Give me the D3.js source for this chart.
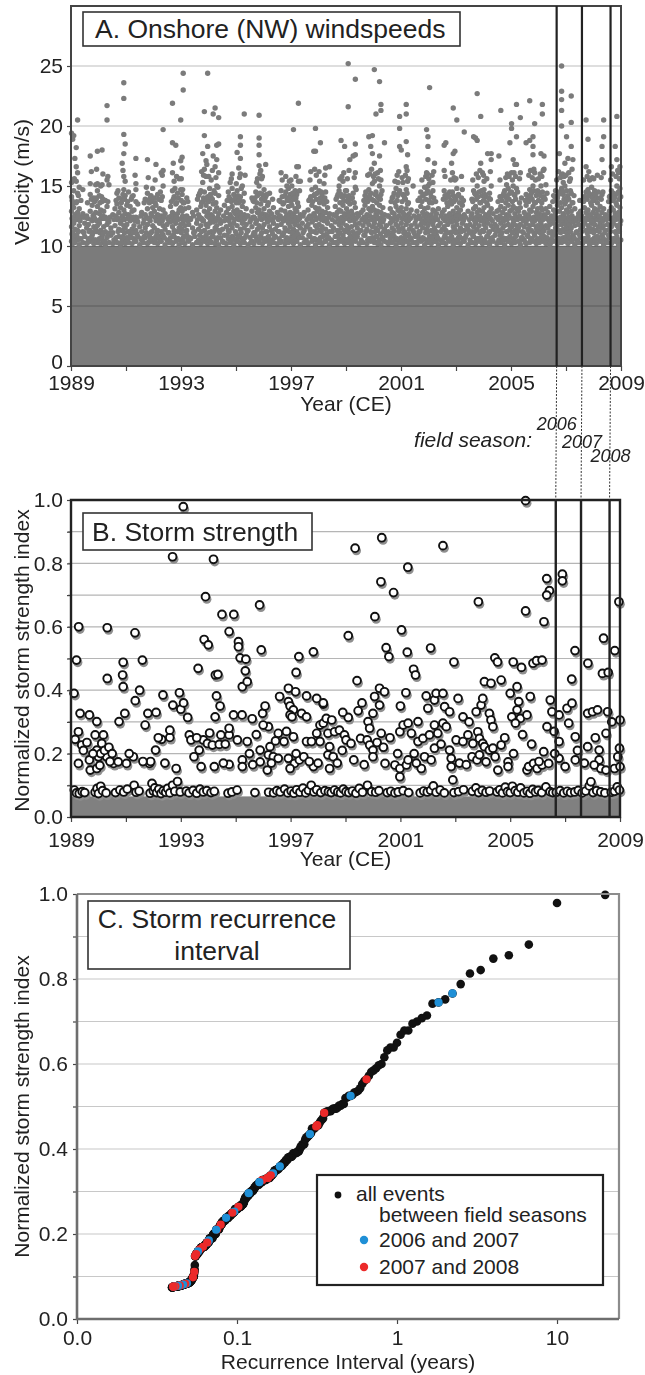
<!DOCTYPE html>
<html>
<head>
<meta charset="utf-8">
<script src="https://cdn.jsdelivr.net/npm/d3@7"></script>
<style>
  body { margin: 0; background: #fff; }
  svg text { font-family: "Liberation Sans", Arial, Helvetica, sans-serif; fill: #222; }
</style>
</head>
<body>
<svg id="fig" width="645" height="1375"></svg>
<script>
// ---- values ----
const yearTicks = [1989, 1991, 1993, 1995, 1997, 1999, 2001, 2003, 2005, 2007, 2009];
const yearLabels = [1989, 1993, 1997, 2001, 2005, 2009];
const velocityTicks = [0, 5, 10, 15, 20, 25];
const calmCeiling = 10;           // below 10 m/s the record is drawn solid grey
const fieldSeasons = [2006.66, 2007.58, 2008.62];
const fieldSeasonLabels = ['2006', '2007', '2008'];
const strengthTicks = [0, 0.1, 0.2, 0.3, 0.4, 0.5, 0.6, 0.7, 0.8, 0.9, 1.0];
const weakFloor = 0.065;          // grey band at the foot of panel B
const recordYears = 20;           // 1989-2009
const intervalTicks = [0.01, 0.1, 1, 10];
const intervalTickLabels = ['0.0', '0.1', '1', '10'];
const legendLabels = ['all events', 'between field seasons', '2006 and 2007', '2007 and 2008'];

// panel A: one entry per windy day -> [decimal year, speeds (m/s) ...]
const windDays = [
[1989.02,10.4,11.6,12.9,14.1,15.3,19.4],[1989.06,10.2,11.1,12.3,13.5,18.9],[1989.1,10.7,11.9,13.2,14.6,19.2],[1989.14,10.3,11.4,12.6,17.3],
[1989.19,10.9,12.2,13.6,15.4,16.6,18.2],[1989.24,10.5,11.3,12.8,14.4,16.1,20.5],[1989.3,10.1,11.7,13.1,14.9],[1989.36,10.6,12.4,13.8],
[1989.43,10.3,11.2,12.7,14.7],[1989.5,10.8,11.9],[1989.57,10.2,11.5,12.5],[1989.63,10.6,11.8],[1989.7,10.4,11.3,12.9,14.3,15.2,17.5],
[1989.77,10.9,12.1,13.4],[1989.83,10.2,11.6,12.6,14.0],[1989.9,10.5,11.4,12.8,13.9,15.1],[1989.96,10.3,11.7,13.3,14.6,15.2,17.9],
[1990.03,10.6,11.9,12.7,14.2],[1990.08,10.2,11.3,13.0,15.0],[1990.13,10.8,12.3,13.7,15.1,18.0],[1990.19,10.4,11.6,12.9],
[1990.25,10.1,11.2,12.4,13.8],[1990.31,10.7,11.8,13.3,15.5,20.5,21.7],[1990.38,10.3,12.0,15.1],[1990.45,10.9,11.5],[1990.52,10.2,11.1,12.6],
[1990.6,10.5,11.7,13.1],[1990.67,10.3,12.2,13.5,14.4],[1990.74,10.8,11.4,12.8,14.0],[1990.8,10.1,11.9,13.2],[1990.86,10.6,11.3,12.5,13.9,16.9],
[1990.92,10.4,11.7,13.0,14.7,15.8,17.7,19.3,22.3,23.6],[1990.97,10.2,11.5,12.7,14.2,15.4,18.5],
[1991.03,10.7,11.8,13.4],[1991.09,10.3,11.2,12.6,14.5],[1991.15,10.9,12.1,13.3],[1991.22,10.2,11.4,12.9,14.1],[1991.29,10.6,11.7,13.0],
[1991.36,10.4,11.3,12.4,13.7,14.7,15.2,17.3],[1991.43,10.8,12.0,13.5],[1991.5,10.1,11.6],[1991.57,10.5,11.2,12.8],[1991.63,10.3,11.9],
[1991.7,10.7,11.5,12.6,13.9],[1991.78,10.2,11.8,13.1,14.4,17.2],[1991.85,10.9,12.3,13.6],[1991.91,10.4,11.1,12.7,14.2],[1991.97,10.6,11.7,13.2,14.8],
[1992.03,10.3,11.5,12.9,14.0],[1992.09,10.8,12.1,13.4,16.8],[1992.15,10.2,11.3,12.6,14.3],[1992.22,10.6,11.9,13.1],[1992.28,10.4,11.2,12.5,13.8,16.1],
[1992.35,10.9,11.7,13.0,15.0,16.3,19.7],[1992.42,10.1,11.4,12.7],[1992.49,10.5,11.8],[1992.56,10.3,11.1,12.4],[1992.62,10.7,12.0,13.3],
[1992.69,10.2,11.6,12.8,14.6,16.1,18.6,21.9],[1992.75,10.8,11.3,12.6,14.1,15.4],[1992.81,10.4,11.9,13.5,18.4],[1992.87,10.6,11.2,12.7,14.4],
[1992.93,10.1,11.5,13.0,15.6],[1992.99,10.5,11.8,13.2,14.7,17.1,20.5],
[1993.04,10.3,11.4,12.9,14.3,16.5,17.4],[1993.08,10.7,12.0,13.6,23.0,24.4],[1993.14,10.2,11.7,13.1],[1993.21,10.9,11.3,12.5,14.0],
[1993.28,10.4,11.8,13.2],[1993.35,10.6,12.2],[1993.42,10.1,11.5,12.8],[1993.5,10.8,11.2],[1993.57,10.3,11.9,13.0],[1993.64,10.5,11.4,12.6,14.2],
[1993.72,10.2,11.7,13.3,14.6],[1993.79,10.7,12.1,13.7,15.3,17.7],[1993.85,10.4,11.3,12.9,14.5,16.4,19.2,21.2],[1993.91,10.9,11.8,13.4,15.8,17.1],
[1993.97,10.2,11.6,12.8,14.1,18.3,24.4],
[1994.04,10.6,11.9,13.1,14.8],[1994.1,10.3,11.2,12.6,14.0,15.5],[1994.17,10.8,12.0,13.5,17.5,21.0],[1994.24,10.2,11.5,12.9,14.4,16.6,21.5],
[1994.3,10.5,11.7,13.2,15.0,17.2,18.4],[1994.37,10.1,11.3,12.7,14.2,16.1,18.5,20.7],[1994.44,10.7,11.9,13.0],[1994.51,10.4,11.4],
[1994.58,10.9,12.1,13.4],[1994.65,10.2,11.6,12.8],[1994.72,10.6,11.3,13.1,14.5],[1994.79,10.3,11.8,12.6,13.9,15.3],[1994.86,10.8,11.5,13.3,14.8,16.0],
[1994.92,10.1,11.9,12.9,14.3],[1994.98,10.5,11.2,12.7,14.0],
[1995.04,10.4,11.7,13.0,14.6,17.8],[1995.1,10.8,12.2,13.6,16.5],[1995.16,10.2,11.4,12.8,14.1,16.0,17.3,18.4,19.1],[1995.23,10.6,11.9,13.3,15.0],
[1995.3,10.3,11.5,12.6,14.4,21.0],[1995.37,10.9,11.8,13.1],[1995.44,10.1,11.3,12.5],[1995.51,10.7,12.0],[1995.58,10.4,11.6,12.9,14.0],
[1995.65,10.2,11.1,12.4,13.7],[1995.72,10.8,11.9,13.2,14.5],[1995.78,10.5,11.4,12.8,14.2,15.6],
[1995.84,10.3,11.7,13.0,15.0,16.7,17.6,18.4,19.0,20.9],[1995.9,10.9,12.3,13.5,16.3],[1995.96,10.2,11.5,12.7,14.3,15.8],
[1996.02,10.6,11.8,13.1,14.7],[1996.08,10.4,11.2,12.6,14.1,16.8],[1996.15,10.7,12.0,13.4],[1996.22,10.1,11.6,12.9,14.4],[1996.29,10.5,11.3,12.7],
[1996.36,10.3,11.9,13.2],[1996.43,10.8,11.4],[1996.5,10.2,11.7,12.8],[1996.57,10.6,11.2,12.5,13.8],[1996.64,10.4,11.8,13.0,14.6,16.1],
[1996.71,10.9,12.1,13.5],[1996.78,10.2,11.5,12.9,14.2],[1996.85,10.7,11.3,12.6,14.0,15.0],[1996.91,10.3,11.9,13.3,14.8],[1996.97,10.5,11.6,12.8,14.3],
[1997.03,10.8,12.0,13.4,15.0],[1997.09,10.2,11.4,12.7,14.1,19.7],[1997.15,10.6,11.8,13.1,14.6],[1997.21,10.4,11.2,12.9,14.3,16.6],
[1997.27,10.9,11.7,13.3,15.4,16.6,21.9],[1997.34,10.1,11.5,12.6,15.4],[1997.41,10.7,11.9],[1997.48,10.3,11.3,12.8],[1997.55,10.5,11.6],
[1997.62,10.2,11.8,13.0],[1997.69,10.8,11.4,12.5,13.9,15.5],[1997.76,10.4,12.0,13.4,14.7],[1997.83,10.6,11.2,12.7,14.2,17.9],
[1997.89,10.1,11.7,13.2,14.9,17.9,19.8],[1997.95,10.5,11.5,12.9,14.4],
[1998.02,10.3,11.8,13.1,14.6,16.2],[1998.07,10.7,11.3,12.6,14.0,18.6],[1998.13,10.2,11.6,12.9,14.3],[1998.2,10.9,12.1,13.5,15.2],
[1998.26,10.4,11.4,12.8,14.5,16.5],[1998.33,10.6,11.9,13.2],[1998.4,10.1,11.2,12.7,16.6],[1998.47,10.5,11.7],[1998.54,10.3,11.5,12.6],
[1998.61,10.8,12.0,13.3],[1998.68,10.2,11.3,12.8,14.1],[1998.75,10.6,11.8,13.0,14.6,15.0],[1998.82,10.4,11.5,12.9,14.3,18.8],
[1998.89,10.9,11.9,13.4,15.4],[1998.95,10.2,11.3,12.7,14.2,18.3],
[1999.02,10.5,11.7,13.1,14.6],[1999.08,10.3,11.4,12.8,14.0,21.6,25.2],[1999.14,10.7,12.1,13.5,17.2],[1999.2,10.1,11.6,12.9],
[1999.26,10.6,11.2,12.6,14.4,17.5],[1999.34,10.4,11.8,13.2,14.9,16.1,17.6,18.5,23.9],[1999.41,10.8,11.5,12.7],[1999.48,10.2,11.9],
[1999.55,10.5,11.3,12.8],[1999.62,10.3,11.7,13.0],[1999.69,10.9,12.0,13.4,14.2],[1999.76,10.2,11.4,12.6,14.0],[1999.83,10.6,11.8,13.1,14.7,19.1],
[1999.9,10.4,11.2,12.9,14.4,18.3],[1999.96,10.7,11.6,13.3,15.2,17.7,19.2],
[2000.03,10.3,11.9,13.0,15.4,16.9,24.7],[2000.09,10.8,11.5,12.7,14.5,21.0],[2000.15,10.2,11.3,12.9,14.1,16.1],[2000.22,10.5,11.8,13.4,15.0,17.5,23.7],
[2000.27,10.1,11.6,12.8,14.3,15.5,21.3,21.8],[2000.34,10.7,12.0,13.2],[2000.4,10.4,11.4,12.6,18.6],[2000.47,10.9,11.7],[2000.54,10.2,11.2,12.5],
[2000.61,10.6,11.9,13.1],[2000.68,10.3,11.5,12.8,14.0],[2000.75,10.8,11.3,12.7,14.4],[2000.82,10.1,11.8,13.3,14.8],[2000.89,10.5,11.6,13.0,14.2,15.3],
[2000.95,10.3,11.4,12.9,14.6,18.3,19.8,20.8],
[2001.01,10.7,11.9,13.2,18.0],[2001.07,10.2,11.5,12.8,14.3,15.3],[2001.13,10.6,11.2,12.6,14.0],[2001.19,10.4,11.8,13.1,14.7,16.6,18.7,21.0,21.8],
[2001.24,10.9,12.1,13.5,15.4,17.6],[2001.3,10.1,11.4,12.7],[2001.37,10.5,11.7,13.0],[2001.44,10.3,11.3,15.0],[2001.51,10.8,11.9],
[2001.58,10.2,11.6,12.9],[2001.65,10.6,11.2,12.5,13.8],[2001.72,10.4,11.8,13.3,14.5],[2001.79,10.7,11.5,12.8,14.2],[2001.86,10.1,11.9,13.1,14.9],
[2001.93,10.5,11.4,12.7,14.4,16.1,19.7],[2001.98,10.3,11.7,13.2,15.0,17.2,18.3,19.1],
[2002.04,10.8,12.0,13.6,15.2,23.2],[2002.1,10.2,11.3,12.6,14.1],[2002.16,10.6,11.8,13.0,14.6,15.3],[2002.22,10.4,11.5,12.9,16.9],
[2002.29,10.9,11.2,12.7],[2002.36,10.1,11.7,13.1],[2002.43,10.5,11.9],[2002.5,10.3,11.4,12.8],[2002.57,10.7,11.6,13.0,14.6,16.3,18.4],
[2002.63,10.2,11.3,12.5,14.0,18.6],[2002.7,10.6,11.8,13.3,14.3],[2002.77,10.4,11.1,12.7,14.5],[2002.84,10.8,12.0,13.5,16.9],
[2002.9,10.1,11.6,12.9,14.2,17.7,21.5],[2002.96,10.5,11.4,12.6,14.0,15.5,17.9],
[2003.03,10.3,11.8,13.2,14.8,20.5],[2003.09,10.7,11.2,12.8,14.3],[2003.16,10.2,11.5,13.0],[2003.23,10.6,11.9,13.4,14.7],[2003.3,10.4,11.3,12.6,19.5],
[2003.37,10.9,11.7],[2003.44,10.1,11.4,12.9],[2003.51,10.5,11.8],[2003.58,10.3,11.2,12.7,13.9],[2003.64,10.8,11.6,13.1,14.6,19.1],
[2003.71,10.2,11.9,13.3,14.3,19.0],[2003.77,10.6,11.4,12.8,15.0,18.8,22.7],[2003.84,10.4,11.7,13.0,14.5],[2003.9,10.7,12.1,13.6,16.9,20.8],
[2003.96,10.2,11.3,12.9,14.2,16.1],
[2004.02,10.5,11.8,13.2,14.7,15.4],[2004.08,10.3,11.5,12.6,14.1],[2004.15,10.8,11.9,13.4,17.7],[2004.22,10.1,11.2,12.8,14.4],
[2004.28,10.6,11.7,13.1,15.0,17.2,17.7],[2004.35,10.4,11.4,12.7],[2004.42,10.9,11.8],[2004.49,10.2,11.6,12.9],[2004.56,10.5,11.3,13.0,17.5],
[2004.63,10.3,11.9,13.3,21.3],[2004.7,10.7,11.5,12.8,14.2],[2004.77,10.1,11.7,13.1,14.6],[2004.84,10.6,11.2,12.6,14.0,15.1],
[2004.9,10.4,11.8,13.4,14.8],[2004.96,10.8,11.4,12.9,14.4,18.6],
[2005.02,10.2,11.6,13.0,14.5,16.1,19.8,20.2],[2005.08,10.6,11.9,13.3,15.0,17.2],[2005.14,10.3,11.3,12.7,14.2,16.8],
[2005.2,10.9,11.7,13.1,14.8,16.8,19.1,21.8],[2005.27,10.4,11.5,12.9],[2005.34,10.1,11.8,13.2,16.1,20.7],[2005.41,10.7,11.2],
[2005.48,10.5,11.6,12.8],[2005.55,10.2,11.9,13.4,14.3,18.6],[2005.62,10.8,11.4,12.6,14.0],[2005.68,10.3,11.7,13.0,14.7,18.8,22.1],
[2005.74,10.6,11.3,12.9,14.4],[2005.8,10.4,11.8,13.3,15.0,17.6,18.3,19.1],[2005.86,10.9,12.1,13.6,16.1,20.2],[2005.92,10.2,11.5,12.8,14.2],
[2005.97,10.6,11.7,13.1,14.6],
[2006.03,10.3,11.4,12.7,14.3],[2006.09,10.7,11.9,13.2,15.0,17.7],[2006.14,10.4,11.6,13.0,14.5,21.0,21.8],[2006.2,10.8,11.3,12.6,14.1,16.4,17.5],
[2006.27,10.2,11.7,13.1,15.1],[2006.34,10.5,11.5,12.8],[2006.41,10.1,11.8,13.3],[2006.48,10.6,11.2,12.5],[2006.55,10.4,11.9,13.0,14.2],
[2006.62,10.9,11.5,12.8,14.6],[2006.69,10.2,11.7,13.4,14.0],[2006.76,10.6,11.3,12.9,14.5,17.7],
[2006.84,10.3,11.8,13.2,14.8,15.9,20.0,21.3,22.2,22.9,25.0],[2006.9,10.7,11.4,12.7,14.3,15.3],[2006.96,10.4,11.9,13.5,15.0,16.9],
[2007.02,10.8,11.6,13.0,14.6,19.1],[2007.07,10.2,11.3,12.8,14.2,17.3],[2007.13,10.6,11.8,13.3,15.4],[2007.19,10.4,11.5,12.9,14.4,18.3,20.3,22.5],
[2007.25,10.9,12.0,13.6,17.2],[2007.32,10.1,11.7,13.1],[2007.39,10.5,11.2],[2007.46,10.3,11.8,12.7],[2007.53,10.7,11.4,12.9],[2007.6,10.2,11.6],
[2007.67,10.6,11.9,13.2,14.1],[2007.73,10.4,11.3,12.8,14.5,16.6,20.5],[2007.8,10.8,11.7,13.0,14.7,18.9],[2007.86,10.1,11.5,12.6,14.2,15.5],
[2007.93,10.5,11.9,13.4,14.9],[2007.98,10.3,11.4,12.8,14.3],
[2008.04,10.7,11.8,13.1,14.6],[2008.1,10.2,11.3,12.7,14.0],[2008.17,10.6,11.6,13.0,14.5],[2008.24,10.4,11.9,13.3],
[2008.31,10.9,11.5,12.8,14.3,17.2,18.3],[2008.37,10.1,11.7,13.1,16.1,19.1,20.5],[2008.44,10.5,11.3,12.6],[2008.51,10.3,11.8],
[2008.58,10.7,11.4,12.9,14.1],[2008.65,10.2,11.6,13.2,14.6,16.6],[2008.72,10.6,11.9,13.0,14.4],[2008.79,10.4,11.2,12.7,14.2,18.3],
[2008.85,10.8,11.7,13.4,15.0,17.2,20.8],[2008.91,10.1,11.5,12.8,14.5,16.1],[2008.96,10.5,11.8,13.2,14.8,16.6],
// further windy days read from the crowded 10-16 m/s band
[1989.04,11.0,12.3,13.8],[1989.12,10.4,12.4,15.6],[1989.21,10.9,12.2,13.7],[1989.27,11.2,12.5,14.2],[1989.33,10.6,12.1],[1989.47,11.1,12.4],
[1989.6,10.3,12.3,13.6],[1989.66,11.2],[1989.74,10.7,12.2,13.9,16.2],[1989.8,11.1,12.5],[1989.86,10.5,12.3,13.7],[1989.93,11.2,12.1,14.0,16.4],
[1990.05,11.1,12.2,13.6],[1990.11,10.6,12.4,14.1],[1990.16,11.0,12.5,13.9,16.0],[1990.22,10.4,12.3],[1990.34,10.9,12.1,13.7,15.8],[1990.42,11.1,12.4],
[1990.56,10.5,12.2],[1990.64,10.7,12.5,13.8],[1990.71,11.2,12.3,14.6],[1990.83,10.3,12.1,13.6],[1990.89,10.8,12.4,14.3,16.3],[1990.95,11.1,12.2,13.9],
[1991.06,10.5,12.3,13.7],[1991.12,11.2,12.5],[1991.19,10.7,12.2,13.9],[1991.26,11.1,12.4,14.2],[1991.33,10.4,12.1,15.9],[1991.4,11.0,12.3],
[1991.54,10.6,12.5],[1991.66,10.8,12.2,13.6],[1991.74,11.1,12.4,14.9],[1991.81,10.3,12.3,13.8,15.7],[1991.88,10.6,12.1,14.0],[1991.94,11.2,12.5,13.7],
[1992.06,10.5,12.4,13.6,15.5],[1992.12,11.1,12.2],[1992.19,10.8,12.5,13.9],[1992.25,10.4,12.3,14.5],[1992.32,11.0,12.1,14.1,15.9],[1992.39,10.7,12.4],
[1992.53,11.1,12.2],[1992.65,10.3,12.5,13.7],[1992.72,10.9,12.3,13.9,16.9],[1992.78,11.2,12.1,14.8],[1992.84,10.5,12.4,13.6,15.8],[1992.9,10.6,12.2,14.0],
[1993.01,11.1,12.3,13.8,15.6],[1993.06,10.4,12.5,14.7],[1993.11,10.8,12.2,13.6],[1993.18,11.2,12.4],[1993.25,10.5,12.1,13.7],[1993.32,10.7,12.3],
[1993.46,11.1,12.5],[1993.6,10.3,12.2,13.9],[1993.68,10.9,12.4,14.4],[1993.75,11.2,12.3,13.6,16.2],[1993.82,10.5,12.1,14.0,15.9],[1993.94,10.6,12.5,13.8,16.8],
[1994.01,11.1,12.4,13.7,15.8],[1994.07,10.4,12.2,14.3],[1994.14,10.8,12.5,13.9,16.3],[1994.2,11.2,12.3,14.6],[1994.27,10.5,12.1,13.6,15.7],[1994.34,10.7,12.4,14.9],
[1994.41,11.1,12.2],[1994.55,10.3,12.5],[1994.68,10.9,12.3,13.8],[1994.75,11.2,12.1,14.1],[1994.83,10.5,12.4,13.7,15.6],[1994.95,10.6,12.2,13.9],
[1995.01,11.0,12.3,13.6,15.2],[1995.07,10.4,12.5,14.2],[1995.13,10.8,12.2,13.9,15.7],[1995.19,11.1,12.4,14.8],[1995.26,10.5,12.1,13.7],[1995.33,10.7,12.3,15.9],
[1995.41,11.2,12.5],[1995.54,10.3,12.2],[1995.62,10.9,12.4,13.8],[1995.69,11.1,12.3,14.0],[1995.75,10.5,12.1,13.6,15.3],[1995.87,10.6,12.5,14.4,16.0],
[1995.93,11.1,12.2,13.9,15.6],
[1996.05,10.5,12.4,13.8],[1996.12,11.2,12.2,14.3],[1996.18,10.8,12.5,13.6],[1996.25,10.4,12.3],[1996.33,11.0,12.1,13.9],[1996.4,10.7,12.4],
[1996.54,11.2,12.2],[1996.61,10.3,12.5,13.7],[1996.68,10.9,12.3,14.1,15.5],[1996.74,11.1,12.1,13.6],[1996.81,10.5,12.4,14.5,15.8],[1996.88,10.6,12.2,13.8],
[1996.94,11.2,12.5,14.0,15.4],
[1997.0,10.5,12.3,13.7,15.5],[1997.06,11.1,12.5,14.4],[1997.12,10.8,12.2,13.9],[1997.18,10.4,12.4,14.0,15.8],[1997.24,11.0,12.1,13.6],[1997.31,10.7,12.3,14.6],
[1997.44,11.1,12.5],[1997.58,10.3,12.2],[1997.65,10.9,12.4,13.8],[1997.72,11.2,12.3,14.1,16.2],[1997.79,10.5,12.1,13.7],[1997.86,10.6,12.5,14.3,16.4],
[1997.92,11.1,12.2,13.9,15.9],
[1998.04,10.5,12.4,13.6,15.4],[1998.1,11.2,12.2,14.5],[1998.16,10.8,12.5,13.8],[1998.23,10.4,12.3,14.0,15.9],[1998.3,11.0,12.1,13.7],[1998.37,10.7,12.4],
[1998.5,11.2,12.2],[1998.64,10.3,12.5,13.9],[1998.71,10.9,12.3,14.3],[1998.78,11.1,12.1,13.6,15.6],[1998.85,10.5,12.4,14.1,15.8],[1998.92,10.6,12.2,13.8,16.1],
[1998.98,11.2,12.5,14.6],
[1999.05,10.5,12.3,13.7,15.6],[1999.11,11.1,12.5,14.2,16.3],[1999.17,10.8,12.2,13.9],[1999.23,10.4,12.4,14.0],[1999.3,11.0,12.1,13.6,15.7],[1999.37,10.7,12.3,14.7],
[1999.45,11.1,12.5],[1999.58,10.3,12.2],[1999.65,10.9,12.4,13.8],[1999.72,11.2,12.3,14.5],[1999.79,10.5,12.1,13.7,15.9],[1999.86,10.6,12.5,14.2,16.0],
[1999.93,11.1,12.2,13.9,16.4],
[2000.0,10.5,12.4,13.8,15.8],[2000.06,11.2,12.2,14.3,16.0],[2000.12,10.8,12.5,13.6],[2000.18,10.4,12.3,14.0,15.6],[2000.25,11.0,12.1,13.9,16.3],[2000.31,10.7,12.4,14.6],
[2000.37,11.2,12.2],[2000.51,10.3,12.5],[2000.64,10.9,12.3,13.7],[2000.71,11.1,12.1,14.1],[2000.78,10.5,12.4,13.6,15.4],[2000.86,10.6,12.2,13.8,15.9],
[2000.92,11.2,12.5,14.4,16.2],
[2001.04,10.5,12.3,13.7,15.7],[2001.1,11.1,12.5,14.2],[2001.16,10.8,12.2,13.9,15.9],[2001.22,10.4,12.4,14.4,16.3],[2001.27,11.0,12.1,13.6,15.6],[2001.34,10.7,12.3],
[2001.47,11.1,12.5],[2001.55,10.3,12.2],[2001.62,10.9,12.4,13.8],[2001.69,11.2,12.3,14.0],[2001.76,10.5,12.1,13.7,15.5],[2001.83,10.6,12.5,14.3],
[2001.9,11.1,12.2,13.9,15.8],[2001.96,10.4,12.4,14.6,16.0],
[2002.01,11.2,12.2,13.8,15.6],[2002.07,10.5,12.5,14.4],[2002.13,10.8,12.3,13.6,15.9],[2002.19,11.1,12.1,14.0,16.2],[2002.26,10.4,12.4,13.7],[2002.33,10.7,12.2],
[2002.46,11.2,12.5],[2002.54,10.3,12.3,13.9],[2002.6,10.9,12.1,14.2,15.8],[2002.67,11.1,12.4,13.6],[2002.74,10.5,12.2,14.1],[2002.81,10.6,12.5,13.8,15.5],
[2002.87,11.2,12.3,14.5,16.1],[2002.93,10.4,12.1,13.7,15.7],
[2003.0,11.1,12.4,13.9,15.6],[2003.06,10.5,12.2,14.2],[2003.13,10.8,12.5,13.6],[2003.2,11.2,12.3,14.0,15.8],[2003.27,10.4,12.1,13.8],[2003.34,10.7,12.4],
[2003.48,11.1,12.2],[2003.55,10.3,12.5],[2003.61,10.9,12.3,13.7,15.5],[2003.68,11.2,12.1,14.4],[2003.74,10.5,12.4,13.9,16.0],[2003.81,10.6,12.2,14.1,15.7],
[2003.87,11.1,12.5,13.6,16.3],[2003.93,10.4,12.3,14.6],
[2004.0,11.2,12.1,13.8,15.9],[2004.05,10.5,12.4,14.3],[2004.12,10.8,12.2,13.6,15.6],[2004.19,11.1,12.5,14.0],[2004.25,10.4,12.3,13.9,16.2],[2004.32,10.7,12.1],
[2004.46,11.2,12.4],[2004.53,10.3,12.2,13.7],[2004.6,10.9,12.5,14.1,15.5],[2004.67,11.1,12.3,13.8],[2004.74,10.5,12.1,14.4],[2004.81,10.6,12.4,13.6,15.7],
[2004.87,11.2,12.2,14.2,16.0],[2004.93,10.4,12.5,13.9,15.8],
[2005.05,11.1,12.3,13.7,15.5],[2005.11,10.5,12.1,14.3,16.1],[2005.17,10.8,12.4,13.9,15.8],[2005.24,11.2,12.2,14.5],[2005.31,10.4,12.5,13.6,15.6],[2005.38,10.7,12.3,14.0],
[2005.45,11.1,12.1],[2005.52,10.3,12.4,13.8],[2005.59,10.9,12.2,14.2],[2005.65,11.2,12.5,13.7,15.9],[2005.71,10.5,12.3,14.1,16.3],[2005.77,10.6,12.1,13.9,15.7],
[2005.83,11.1,12.4,14.6,16.4],[2005.89,10.4,12.2,13.6,15.5],[2005.95,11.2,12.5,14.3],
[2006.0,10.5,12.3,13.8,15.6],[2006.06,11.1,12.1,14.2,16.0],[2006.12,10.8,12.4,13.6,15.8],[2006.17,11.2,12.2,14.0,16.3],[2006.24,10.4,12.5,13.9],[2006.31,10.7,12.3,14.4],
[2006.38,11.1,12.1],[2006.45,10.3,12.4],[2006.52,10.9,12.2,13.7],[2006.59,11.2,12.5,14.1],[2006.66,10.5,12.3,13.8,15.5],[2006.73,10.6,12.1,14.3,16.2],
[2006.8,11.1,12.4,13.6,15.7],[2006.87,10.4,12.2,14.5,16.0],[2006.93,11.2,12.5,13.9,15.8],
[2007.0,10.5,12.3,13.7,15.9],[2007.04,11.1,12.1,14.0],[2007.1,10.8,12.4,13.9,16.1],[2007.16,11.2,12.2,14.6,15.6],[2007.22,10.4,12.5,13.6,16.4],[2007.29,10.7,12.3,14.2],
[2007.36,11.1,12.1],[2007.43,10.3,12.4],[2007.5,10.9,12.2,13.8],[2007.57,11.2,12.5],[2007.64,10.5,12.3,13.7,15.5],[2007.7,10.6,12.1,14.1],
[2007.77,11.1,12.4,13.9,15.8],[2007.83,10.4,12.2,14.4,16.2],[2007.9,11.2,12.5,13.6],[2007.96,10.5,12.3,14.0,15.7],
[2008.01,11.1,12.1,13.8,15.6],[2008.07,10.5,12.4,14.3],[2008.14,10.8,12.2,13.6,15.9],[2008.21,11.2,12.5,14.0],[2008.28,10.4,12.3,13.9,15.7],[2008.34,10.7,12.1,14.5],
[2008.41,11.1,12.4],[2008.48,10.3,12.2],[2008.55,10.9,12.5,13.7],[2008.62,11.2,12.3,14.2,15.5],[2008.69,10.5,12.1,13.8,16.0],[2008.76,10.6,12.4,14.0],
[2008.82,11.1,12.2,13.6,15.8],[2008.88,10.4,12.5,14.4,16.3],[2008.94,11.2,12.3,13.9,15.6],[2008.99,10.5,12.1,14.1]
];

// panel B: storms -> [decimal year, normalized strength index]
const storms = [
// weak events along the floor
[1989.12,0.085],[1989.2,0.076],[1989.3,0.074],[1989.41,0.08],[1989.5,0.077],
[1989.88,0.078],[1989.95,0.09],[1990.0,0.074],[1990.08,0.097],[1990.15,0.083],[1990.28,0.076],
[1990.62,0.077],[1990.78,0.085],[1990.92,0.079],[1991.05,0.088],[1991.3,0.1],[1991.37,0.078],[1991.48,0.082],
[1991.88,0.075],[1991.95,0.106],[1992.0,0.082],[1992.05,0.092],[1992.12,0.077],[1992.2,0.088],[1992.28,0.074],[1992.36,0.083],
[1992.45,0.078],[1992.52,0.09],[1992.6,0.076],[1992.7,0.1],[1992.78,0.081],[1992.88,0.112],[1992.98,0.079],
[1993.2,0.082],[1993.3,0.076],[1993.45,0.084],[1993.58,0.075],[1993.7,0.088],[1993.82,0.079],[1993.95,0.083],[1994.1,0.077],[1994.22,0.081],
[1994.72,0.075],[1994.86,0.079],[1995.05,0.085],[1995.7,0.077],
[1996.2,0.078],[1996.38,0.076],[1996.5,0.083],[1996.62,0.079],[1996.78,0.088],[1996.9,0.076],
[1997.02,0.082],[1997.12,0.075],[1997.22,0.086],[1997.34,0.078],[1997.45,0.091],[1997.55,0.076],[1997.65,0.084],[1997.75,0.1],
[1997.85,0.079],[1997.95,0.086],[1998.1,0.077],[1998.25,0.083],
[1998.38,0.08],[1998.48,0.077],[1998.6,0.085],[1998.72,0.079],[1998.82,0.076],[1998.92,0.088],[1999.02,0.08],[1999.12,0.077],
[1999.25,0.082],[1999.38,0.075],[1999.5,0.09],[1999.62,0.078],[1999.8,0.1],[1999.95,0.08],[2000.1,0.078],[2000.22,0.083],
[2000.52,0.077],[2000.65,0.081],[2000.8,0.076],[2000.92,0.079],[2001.1,0.083],[2001.3,0.077],
[2001.72,0.076],[2001.85,0.082],[2001.98,0.079],[2002.1,0.084],[2002.2,0.098],[2002.3,0.078],[2002.45,0.085],[2002.6,0.076],
[2002.95,0.077],[2003.12,0.08],[2003.3,0.086],
[2003.62,0.081],[2003.75,0.092],[2003.85,0.077],[2003.98,0.084],[2004.12,0.078],[2004.25,0.082],
[2004.52,0.079],[2004.62,0.086],[2004.72,0.076],[2004.82,0.094],[2004.9,0.08],[2005.0,0.077],[2005.08,0.097],[2005.18,0.083],
[2005.28,0.078],[2005.38,0.092],[2005.5,0.076],[2005.62,0.081],[2005.72,0.075],[2005.82,0.087],[2005.92,0.079],[2006.02,0.084],
[2006.15,0.077],[2006.3,0.095],[2006.45,0.08],[2006.55,0.077],
[2006.68,0.078],[2006.82,0.083],[2006.95,0.076],[2007.08,0.081],[2007.2,0.077],[2007.35,0.079],[2007.48,0.084],
[2007.62,0.076],[2007.75,0.082],[2007.88,0.098],[2008.02,0.077],[2008.15,0.083],[2008.3,0.079],[2008.45,0.076],
[2008.68,0.078],[2008.8,0.081],[2008.9,0.095],[2008.98,0.085],
// 1989-1998
[1989.11,0.39],[1989.33,0.327],[1989.27,0.269],[1989.15,0.245],[1989.39,0.227],[1989.27,0.169],[1989.67,0.322],[1989.94,0.301],
[1989.88,0.259],[1990.18,0.259],[1990.12,0.232],[1989.94,0.211],[1990.0,0.19],[1990.3,0.19],[1990.55,0.169],[1989.7,0.148],
[1989.94,0.153],[1989.67,0.18],[1990.72,0.174],[1991.02,0.169],[1990.75,0.301],[1990.96,0.327],[1991.5,0.4],[1990.9,0.411],
[1991.34,0.367],[1991.27,0.19],[1991.8,0.327],[1992.1,0.33],[1992.08,0.211],[1991.86,0.169],[1991.9,0.175],[1992.3,0.245],
[1992.6,0.251],[1992.6,0.274],[1992.35,0.385],[1992.71,0.353],[1992.95,0.392],[1992.83,0.153],[1993.25,0.314],[1993.31,0.259],
[1993.37,0.243],[1993.67,0.211],[1993.82,0.243],[1993.97,0.232],[1994.15,0.227],[1994.4,0.229],[1994.46,0.259],[1994.76,0.259],
[1994.76,0.28],[1993.74,0.159],[1994.22,0.159],[1994.76,0.166],[1995.06,0.243],[1994.92,0.322],[1995.23,0.322],[1994.3,0.382],
[1994.43,0.35],[1994.25,0.316],[1995.24,0.18],[1995.24,0.159],[1995.42,0.238],[1995.24,0.411],[1995.42,0.427],[1995.89,0.211],
[1995.89,0.174],[1996.19,0.196],[1996.25,0.222],[1996.37,0.19],[1996.55,0.264],[1996.19,0.285],[1995.98,0.327],[1996.07,0.35],
[1996.15,0.148],[1996.6,0.38],[1996.92,0.364],[1996.98,0.35],[1997.1,0.338],[1997.18,0.395],[1996.92,0.406],[1996.98,0.322],
[1997.05,0.316],[1996.76,0.238],[1996.55,0.185],[1996.92,0.185],[1997.14,0.169],[1997.32,0.18],[1997.2,0.2],[1996.98,0.153],
[1997.1,0.253],[1997.4,0.327],[1997.58,0.316],[1997.58,0.382],[1997.95,0.374],[1998.19,0.356],[1997.95,0.264],[1998.07,0.29],
[1998.19,0.296],[1997.58,0.238],[1997.76,0.238],[1998.07,0.238],[1997.83,0.159],[1998.3,0.311],[1998.36,0.264],[1998.42,0.222],
[1998.36,0.196],[1998.42,0.153],
[1990.08,0.2],[1990.22,0.21],[1990.42,0.175],[1989.8,0.2],[1990.05,0.163],
// 1998-2009
[1999.42,0.43],[1998.19,0.36],[1998.5,0.306],[1999.1,0.314],[1999.46,0.335],[1999.82,0.301],[1999.88,0.28],[2000.0,0.327],
[2000.06,0.38],[2000.24,0.353],[2000.24,0.406],[2000.42,0.395],[2001.2,0.392],[1998.6,0.269],[1998.78,0.274],[1998.96,0.259],
[1999.02,0.243],[1999.2,0.232],[1999.55,0.248],[1999.79,0.243],[1999.88,0.227],[2000.0,0.211],[2000.0,0.19],[2000.3,0.264],
[2000.98,0.269],[2001.1,0.29],[2001.28,0.296],[2001.64,0.301],[2001.4,0.264],[2001.64,0.238],[2001.82,0.248],[2002.06,0.259],
[2002.24,0.29],[2002.36,0.264],[2002.55,0.296],[2002.67,0.285],[2001.94,0.382],[2002.0,0.343],[2002.24,0.369],[2002.3,0.39],
[2002.55,0.39],[2002.61,0.348],[2002.79,0.332],[2003.1,0.374],[2003.28,0.316],[2002.24,0.217],[2001.88,0.19],[2001.76,0.153],
[2000.8,0.164],[2000.98,0.127],[2000.98,0.153],[2000.44,0.169],[2001.22,0.164],[2001.28,0.18],[2002.79,0.211],[2002.85,0.185],
[2002.85,0.159],[2002.91,0.117],[2003.03,0.243],[2003.28,0.238],[2003.46,0.259],[2003.64,0.232],[2003.82,0.269],[2003.88,0.248],
[2004.0,0.232],[2004.06,0.222],[2004.24,0.211],[2004.37,0.217],[2004.67,0.227],[2003.61,0.19],[2003.79,0.18],[2003.88,0.196],
[2004.12,0.174],[2004.55,0.148],[2004.92,0.174],[2004.92,0.159],[2003.76,0.332],[2003.94,0.353],[2004.0,0.374],[2004.24,0.327],
[2004.3,0.306],[2004.37,0.285],[2004.06,0.427],[2004.3,0.422],[2004.67,0.432],[2005.0,0.39],[2005.25,0.411],[2005.31,0.364],
[2005.25,0.338],[2005.06,0.316],[2005.37,0.311],[2005.19,0.296],[2005.61,0.322],[2005.73,0.38],[2005.61,0.148],[2005.67,0.159],
[2005.85,0.169],[2005.98,0.153],[2006.16,0.164],[2006.22,0.206],[2006.4,0.169],[2006.34,0.285],[2006.46,0.369],[2006.52,0.332],
[2006.78,0.322],[2006.78,0.238],[2006.78,0.185],[2007.07,0.343],[2007.13,0.296],[2007.25,0.359],[2007.0,0.159],[2007.37,0.253],
[2007.37,0.18],[2007.82,0.327],[2007.82,0.222],[2007.94,0.111],[2008.0,0.332],[2008.18,0.338],[2008.24,0.18],[2008.3,0.153],
[2008.49,0.148],[2008.55,0.332],[2008.49,0.264],[2008.24,0.211],[2008.06,0.164],[2008.8,0.153],[2008.92,0.19],[2008.98,0.217],
[2009.0,0.159],[2009.0,0.306],
// crowded mid-range events
[1989.45,0.21],[1989.58,0.235],[1990.38,0.22],[1990.5,0.2],[1991.12,0.2],[1991.62,0.175],[1992.18,0.25],[1992.42,0.17],
[1993.48,0.19],[1993.58,0.25],[1994.05,0.265],[1994.55,0.17],[1994.62,0.23],[1995.5,0.2],[1995.62,0.165],[1995.75,0.26],
[1996.3,0.17],[1996.45,0.24],[1996.85,0.27],[1997.48,0.19],[1997.68,0.175],[1998.0,0.17],[1998.55,0.19],[1998.7,0.17],
[1998.88,0.21],[1999.3,0.18],[1999.68,0.165],[2000.15,0.235],[2000.38,0.22],[2000.62,0.25],[2000.9,0.2],[2001.5,0.2],
[2001.58,0.17],[2002.12,0.18],[2002.48,0.23],[2003.15,0.17],[2003.4,0.165],[2004.45,0.19],[2004.8,0.25],[2005.12,0.2],
[2005.45,0.26],[2005.78,0.23],[2006.05,0.175],[2006.62,0.2],[2006.6,0.27],[2007.45,0.21],[2007.7,0.17],[2008.1,0.25],
[2008.7,0.3],[1998.9,0.33],[1999.6,0.36],[2001.0,0.35],[2003.5,0.3],[1993.0,0.34],[1991.7,0.29],[1995.6,0.31],[1996.0,0.29],[1993.1,0.36],
// strong events
[1989.28,0.6],[1989.2,0.495],[1990.32,0.597],[1990.9,0.488],[1990.32,0.437],[1990.88,0.448],[1991.33,0.581],[1991.6,0.495],
[1992.7,0.821],[1993.09,0.979],[1993.63,0.469],[1993.85,0.56],[1994.0,0.543],[1993.9,0.695],[1994.19,0.813],[1994.5,0.639],
[1994.93,0.639],[1994.76,0.585],[1994.26,0.448],[1994.35,0.45],[1995.1,0.553],[1995.1,0.537],[1995.16,0.502],[1995.37,0.498],
[1995.35,0.461],[1995.87,0.669],[1995.93,0.527],[1997.2,0.456],[1997.3,0.506],[1997.83,0.521],[1999.1,0.572],[1999.35,0.848],
[2000.07,0.632],[2000.32,0.881],[2000.29,0.742],[2000.75,0.708],[2000.48,0.534],[2000.58,0.506],[2001.04,0.59],[2001.25,0.52],
[2001.27,0.788],[2001.48,0.466],[2001.55,0.448],[2002.1,0.533],[2002.55,0.856],[2002.95,0.489],[2003.84,0.679],[2004.44,0.502],
[2004.54,0.489],[2005.11,0.489],[2005.41,0.472],[2005.56,0.998],[2005.56,0.65],[2005.83,0.485],[2005.96,0.493],[2006.16,0.495],
[2006.23,0.616],[2006.33,0.752],[2006.43,0.714],[2006.33,0.7],[2006.9,0.766],[2006.9,0.745],[2007.24,0.435],[2007.36,0.525],
[2007.83,0.485],[2008.36,0.453],[2008.57,0.456],[2008.4,0.564],[2008.81,0.525],[2008.96,0.679]
];

// ---- drawing ----
const svg = d3.select('#fig');
const ink = '#222';

function styleTicks(g) {
  g.select('.domain').remove();
  g.selectAll('.tick line').attr('stroke', '#444').attr('stroke-width', 1.2);
  g.selectAll('.tick text').attr('font-size', 21).attr('fill', '#333');
}

function seasonOf(t) {
  if (t > fieldSeasons[0] && t <= fieldSeasons[1]) return 1;
  if (t > fieldSeasons[1] && t <= fieldSeasons[2]) return 2;
  return 0;
}

// ===== panel A =====
const A = { left: 71, right: 621, top: 6, bottom: 366 };
const xA = d3.scaleLinear().domain([1989, 2009]).range([A.left, A.right]);
const yA = d3.scaleLinear().domain([0, 30]).range([A.bottom, A.top]);
const gA = svg.append('g');

gA.append('rect')
  .attr('x', A.left).attr('y', yA(calmCeiling))
  .attr('width', A.right - A.left).attr('height', yA(0) - yA(calmCeiling))
  .attr('fill', '#7b7b7b');

gA.append('g').selectAll('line').data(velocityTicks.filter(d => d > 0)).join('line')
  .attr('x1', A.left).attr('x2', A.right)
  .attr('y1', d => yA(d)).attr('y2', d => yA(d))
  .attr('stroke', '#bdbdbd').attr('stroke-width', 1.2)
  .style('mix-blend-mode', 'multiply');

const windPoints = windDays.flatMap(([t, ...speeds]) => speeds.map(v => ({ t, v })));
gA.append('g').selectAll('circle').data(windPoints).join('circle')
  .attr('cx', d => xA(d.t)).attr('cy', d => yA(d.v))
  .attr('r', 2.7).attr('fill', '#7b7b7b');

gA.append('g').attr('transform', `translate(0,${A.bottom})`)
  .call(d3.axisBottom(xA).tickValues(yearTicks).tickSize(5)
    .tickFormat(d => yearLabels.includes(d) ? d : ''))
  .call(styleTicks)
  .selectAll('.tick text').attr('y', 9).attr('dy', '0.71em');

gA.append('g').attr('transform', `translate(${A.left},0)`)
  .call(d3.axisLeft(yA).tickValues(velocityTicks).tickSize(4).tickPadding(4))
  .call(styleTicks)
  .selectAll('.tick text').filter(d => d === 0).attr('y', -4);

// frame
gA.append('path')
  .attr('d', `M${A.left},${A.bottom}V${A.top}H${A.right}V${A.bottom}Z`)
  .attr('fill', 'none').attr('stroke', '#444').attr('stroke-width', 2);

gA.append('text').attr('x', (A.left + A.right) / 2).attr('y', 411)
  .attr('text-anchor', 'middle').attr('font-size', 21).text('Year (CE)');
gA.append('text').attr('transform', `translate(29,${(A.top + A.bottom) / 2 - 4}) rotate(-90)`)
  .attr('text-anchor', 'middle').attr('font-size', 21).text('Velocity (m/s)');

gA.append('rect').attr('x', 83).attr('y', 12).attr('width', 377).attr('height', 34)
  .attr('fill', '#fff').attr('stroke', '#333').attr('stroke-width', 1.6);
gA.append('text').attr('x', 95).attr('y', 38).attr('font-size', 26.5)
  .text('A. Onshore (NW) windspeeds');

// ===== panel B =====
const B = { left: 71, right: 620, top: 500, bottom: 817 };
const xB = d3.scaleLinear().domain([1989, 2009]).range([B.left, B.right]);
const yB = d3.scaleLinear().domain([0, 1]).range([B.bottom, B.top]);
const gB = svg.append('g');

gB.append('g').selectAll('line').data(strengthTicks.filter(d => d > 0 && d < 1)).join('line')
  .attr('x1', B.left - 3).attr('x2', B.right)
  .attr('y1', d => yB(d)).attr('y2', d => yB(d))
  .attr('stroke', '#b5b5b5').attr('stroke-width', 1.2);

gB.append('rect')
  .attr('x', B.left).attr('y', yB(weakFloor))
  .attr('width', B.right - B.left).attr('height', yB(0) - yB(weakFloor))
  .attr('fill', '#808080');

gB.append('g').selectAll('circle').data(storms).join('circle')
  .attr('cx', d => xB(d[0]) + 1.3).attr('cy', d => yB(d[1]) + 2.5)
  .attr('r', 4.6).attr('fill', '#8f8f8f');
gB.append('g').selectAll('circle').data(storms).join('circle')
  .attr('cx', d => xB(d[0])).attr('cy', d => yB(d[1]))
  .attr('r', 3.9).attr('fill', '#fff').attr('stroke', '#111').attr('stroke-width', 1.9);

gB.append('g').attr('transform', `translate(0,${B.bottom})`)
  .call(d3.axisBottom(xB).tickValues(yearTicks).tickSize(5)
    .tickFormat(d => yearLabels.includes(d) ? d : ''))
  .call(styleTicks)
  .selectAll('.tick text').attr('y', 15).attr('dy', '0.71em');

gB.append('g').attr('transform', `translate(${B.left},0)`)
  .call(d3.axisLeft(yB).tickValues(strengthTicks).tickSize(4).tickPadding(4)
    .tickFormat(d => Math.round(d * 10) % 2 === 0 ? d.toFixed(1) : ''))
  .call(styleTicks);

gB.append('path')
  .attr('d', `M${B.left},${B.bottom}V${B.top}H${B.right}V${B.bottom}Z`)
  .attr('fill', 'none').attr('stroke', '#222').attr('stroke-width', 2.4);

gB.append('text').attr('x', (B.left + B.right) / 2).attr('y', 866)
  .attr('text-anchor', 'middle').attr('font-size', 21).text('Year (CE)');
gB.append('text').attr('transform', `translate(29,${(B.top + B.bottom) / 2 + 2}) rotate(-90)`)
  .attr('text-anchor', 'middle').attr('font-size', 21).text('Normalized storm strength index');

gB.append('rect').attr('x', 83).attr('y', 513).attr('width', 229).attr('height', 37)
  .attr('fill', '#fff').attr('stroke', '#333').attr('stroke-width', 1.6);
gB.append('text').attr('x', 92).attr('y', 541).attr('font-size', 26.5).text('B. Storm strength');

// field-season markers through A and B
const gF = svg.append('g');
gF.selectAll('line.a').data(fieldSeasons).join('line').attr('class', 'a')
  .attr('x1', d => xA(d)).attr('x2', d => xA(d)).attr('y1', A.top).attr('y2', A.bottom)
  .attr('stroke', ink).attr('stroke-width', 2.2);
gF.selectAll('line.b').data(fieldSeasons).join('line').attr('class', 'b')
  .attr('x1', d => xB(d)).attr('x2', d => xB(d)).attr('y1', B.top).attr('y2', B.bottom)
  .attr('stroke', ink).attr('stroke-width', 2.4);
gF.selectAll('line.link').data(fieldSeasons).join('line').attr('class', 'link')
  .attr('x1', d => xA(d)).attr('x2', d => xB(d)).attr('y1', A.bottom).attr('y2', B.top)
  .attr('stroke', '#333').attr('stroke-width', 1).attr('stroke-dasharray', '2,1.5');
const seasonBase = [430, 448, 462];
gF.selectAll('text.yr').data(fieldSeasonLabels).join('text').attr('class', 'yr')
  .attr('x', (d, i) => xA(fieldSeasons[i])).attr('y', (d, i) => seasonBase[i])
  .attr('text-anchor', 'middle').attr('font-size', 18).attr('font-style', 'italic')
  .text(d => d);
gF.append('text').attr('x', 532).attr('y', 447).attr('text-anchor', 'end')
  .attr('font-size', 21).attr('font-style', 'italic').text('field season:');

// ===== panel C =====
const C = { left: 77, right: 619, top: 894, bottom: 1319 };
const xC = d3.scaleLog().domain([0.01, 24.4]).range([C.left, C.right]);
const yC = d3.scaleLinear().domain([0, 1]).range([C.bottom, C.top]);
const gC = svg.append('g');

gC.append('g').selectAll('line').data(strengthTicks.filter(d => d > 0 && d < 1)).join('line')
  .attr('x1', C.left).attr('x2', C.right)
  .attr('y1', d => yC(d)).attr('y2', d => yC(d))
  .attr('stroke', '#c8c8c8').attr('stroke-width', 1.2);

// each storm's recurrence interval = record length / rank by strength
const ranked = storms.slice().sort((a, b) => b[1] - a[1])
  .map((d, i) => ({ s: d[1], ri: recordYears / (i + 1), season: seasonOf(d[0]) }));
const seasonColor = ['#111', '#1f8fd6', '#ec2a2a'];

gC.append('g').selectAll('circle').data(ranked).join('circle')
  .attr('cx', d => xC(d.ri)).attr('cy', d => yC(d.s)).attr('r', 4.3).attr('fill', '#111');
gC.append('g').selectAll('circle').data(ranked.filter(d => d.season > 0)).join('circle')
  .attr('cx', d => xC(d.ri)).attr('cy', d => yC(d.s)).attr('r', 4.1)
  .attr('fill', d => seasonColor[d.season]);

gC.append('g').attr('transform', `translate(0,${C.bottom})`)
  .call(d3.axisBottom(xC).tickValues(intervalTicks).tickSize(5)
    .tickFormat((d, i) => intervalTickLabels[i]))
  .call(styleTicks)
  .selectAll('.tick text').attr('y', 11).attr('dy', '0.71em');

gC.append('g').attr('transform', `translate(${C.left},0)`)
  .call(d3.axisLeft(yC).tickValues(strengthTicks).tickSize(4).tickPadding(5)
    .tickFormat(d => Math.round(d * 10) % 2 === 0 ? d.toFixed(1) : ''))
  .call(styleTicks);

gC.append('path')
  .attr('d', `M${C.left},${C.top}H${C.right}V${C.bottom}`)
  .attr('fill', 'none').attr('stroke', '#8c8c8c').attr('stroke-width', 2.2);
gC.append('path')
  .attr('d', `M${C.left},${C.top}V${C.bottom}H${C.right}`)
  .attr('fill', 'none').attr('stroke', '#6e6e6e').attr('stroke-width', 2.6);

gC.append('text').attr('x', (C.left + C.right) / 2).attr('y', 1369)
  .attr('text-anchor', 'middle').attr('font-size', 21).text('Recurrence Interval (years)');
gC.append('text').attr('transform', `translate(29,${(C.top + C.bottom) / 2}) rotate(-90)`)
  .attr('text-anchor', 'middle').attr('font-size', 21).text('Normalized storm strength index');

gC.append('rect').attr('x', 88).attr('y', 901).attr('width', 262).attr('height', 68)
  .attr('fill', '#fff').attr('stroke', '#333').attr('stroke-width', 1.6);
gC.append('text').attr('x', 217).attr('y', 928).attr('text-anchor', 'middle')
  .attr('font-size', 26.5).text('C. Storm recurrence');
gC.append('text').attr('x', 217).attr('y', 960).attr('text-anchor', 'middle')
  .attr('font-size', 26.5).text('interval');

// legend
const gL = gC.append('g');
gL.append('rect').attr('x', 317).attr('y', 1175).attr('width', 286).attr('height', 110)
  .attr('fill', '#fff').attr('stroke', '#222').attr('stroke-width', 2.2);
gL.append('circle').attr('cx', 338).attr('cy', 1195).attr('r', 3.4).attr('fill', '#111');
gL.append('circle').attr('cx', 364).attr('cy', 1240).attr('r', 4.2).attr('fill', seasonColor[1]);
gL.append('circle').attr('cx', 364).attr('cy', 1267).attr('r', 4.2).attr('fill', seasonColor[2]);
const legendPos = [[356, 1201], [379, 1222], [379, 1247], [379, 1274]];
gL.selectAll('text').data(legendLabels).join('text')
  .attr('x', (d, i) => legendPos[i][0]).attr('y', (d, i) => legendPos[i][1])
  .attr('font-size', 21).text(d => d);
</script>
</body>
</html>
